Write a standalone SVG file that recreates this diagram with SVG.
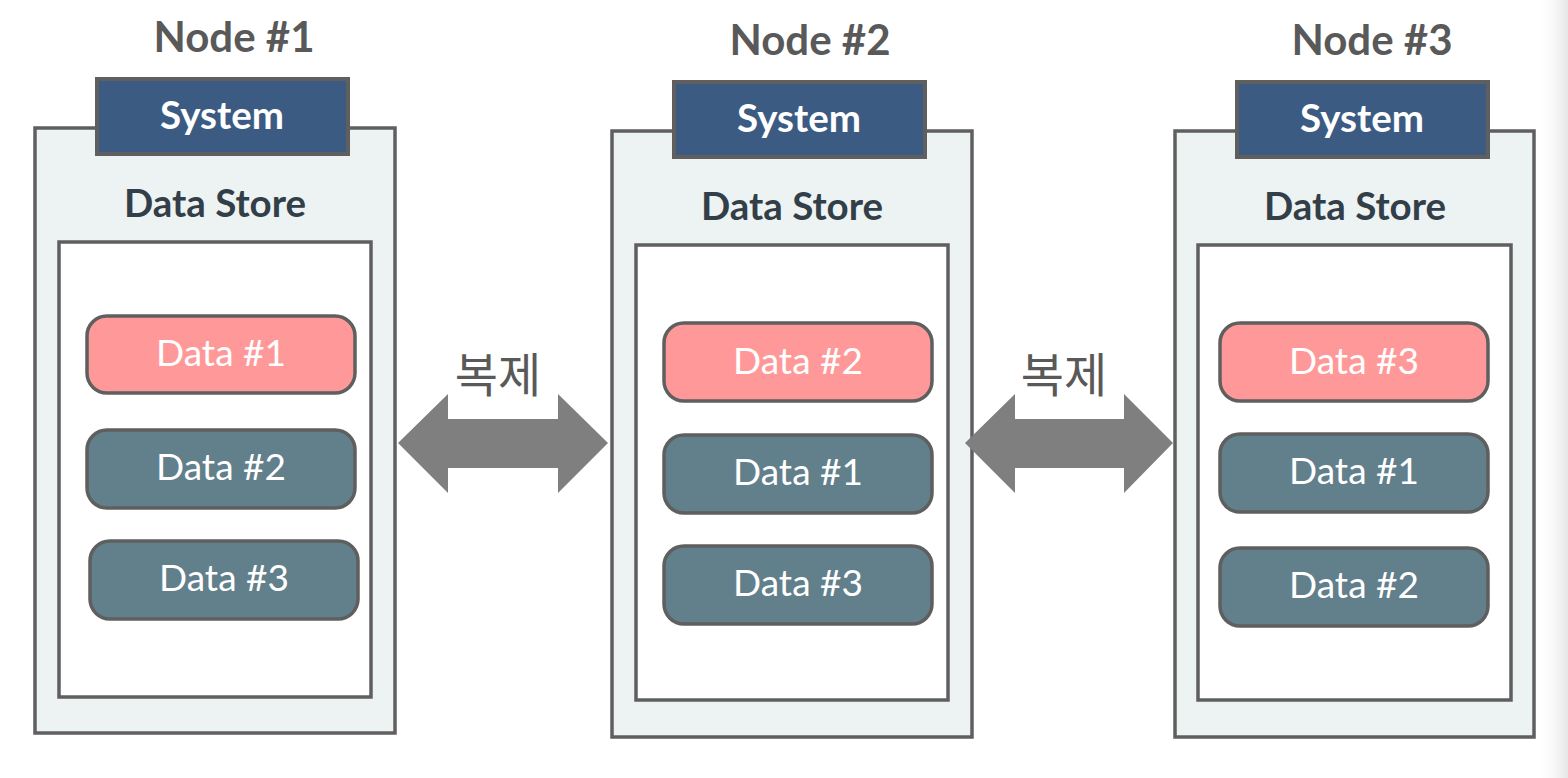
<svg xmlns="http://www.w3.org/2000/svg" width="1568" height="778" viewBox="0 0 1568 778">
<defs>
<linearGradient id="shade" x1="0" y1="0" x2="1" y2="0">
<stop offset="0" stop-color="#ffffff" stop-opacity="0"/>
<stop offset="1" stop-color="#e6e6e6"/>
</linearGradient>
</defs>
<style>
.outer{fill:#edf3f3;stroke:#5f5f5f;stroke-width:3.5}
.sys{fill:#3b5b82;stroke:#5f5f5f;stroke-width:4}
.inner{fill:#ffffff;stroke:#5f5f5f;stroke-width:3.5}
.pill{stroke:#5f5f5f;stroke-width:3.5}
.red{fill:#ff9999}
.teal{fill:#627f8c}
.title{font-family:Lato,"Open Sans",sans-serif;font-weight:bold;font-size:42px;fill:#595959;text-anchor:middle}
.systxt{font-family:Lato,"Open Sans",sans-serif;font-weight:bold;font-size:38.5px;fill:#ffffff;text-anchor:middle}
.ds{font-family:Lato,"Open Sans",sans-serif;font-weight:bold;font-size:38.5px;fill:#333f48;text-anchor:middle}
.dt{font-family:Lato,"Open Sans",sans-serif;font-size:37px;fill:#ffffff;text-anchor:middle}
.rep{font-family:"Noto Sans CJK KR",sans-serif;font-size:47px;fill:#595959;text-anchor:middle}
.arrow{fill:#7f7f7f}
</style>
<rect x="0" y="0" width="1568" height="778" fill="#ffffff"/>
<rect x="1536" y="0" width="32" height="778" fill="url(#shade)"/>

<g id="node1">
<text class="title" x="234" y="52">Node #1</text>
<rect class="outer" x="35" y="128" width="360" height="605"/>
<rect class="sys" x="97" y="79" width="251" height="75"/>
<text class="systxt" x="222" y="129">System</text>
<text class="ds" x="215" y="217">Data Store</text>
<rect class="inner" x="59" y="242" width="312" height="455"/>
<rect class="pill red" x="87" y="316" width="268" height="77" rx="20"/>
<text class="dt" x="221" y="366">Data #1</text>
<rect class="pill teal" x="87" y="430" width="268" height="78" rx="20"/>
<text class="dt" x="221" y="480">Data #2</text>
<rect class="pill teal" x="90" y="541" width="268" height="78" rx="20"/>
<text class="dt" x="224" y="591">Data #3</text>
</g>

<g id="node2">
<text class="title" x="810" y="55">Node #2</text>
<rect class="outer" x="612" y="131" width="360" height="606"/>
<rect class="sys" x="674" y="82" width="251" height="75"/>
<text class="systxt" x="799" y="132">System</text>
<text class="ds" x="792" y="220">Data Store</text>
<rect class="inner" x="636" y="245" width="312" height="455"/>
<rect class="pill red" x="664" y="323" width="268" height="78" rx="20"/>
<text class="dt" x="798" y="374">Data #2</text>
<rect class="pill teal" x="664" y="435" width="268" height="78" rx="20"/>
<text class="dt" x="798" y="485">Data #1</text>
<rect class="pill teal" x="664" y="546" width="268" height="78" rx="20"/>
<text class="dt" x="798" y="596">Data #3</text>
</g>

<g id="node3">
<text class="title" x="1372" y="55">Node #3</text>
<rect class="outer" x="1175" y="131" width="359" height="606"/>
<rect class="sys" x="1237" y="82" width="251" height="75"/>
<text class="systxt" x="1362" y="132">System</text>
<text class="ds" x="1355" y="220">Data Store</text>
<rect class="inner" x="1198" y="245" width="313" height="455"/>
<rect class="pill red" x="1220" y="323" width="268" height="78" rx="20"/>
<text class="dt" x="1354" y="374">Data #3</text>
<rect class="pill teal" x="1220" y="434" width="268" height="78" rx="20"/>
<text class="dt" x="1354" y="484">Data #1</text>
<rect class="pill teal" x="1220" y="548" width="268" height="78" rx="20"/>
<text class="dt" x="1354" y="598">Data #2</text>
</g>

<g id="connectors">
<text class="rep" x="498" y="392">복제</text>
<polygon class="arrow" points="398,443 448,394 448,419 558,419 558,394 608,443 558,493 558,468 448,468 448,493"/>
<text class="rep" x="1064" y="392">복제</text>
<polygon class="arrow" points="965,443 1015,394 1015,419 1124,419 1124,394 1173,443 1124,493 1124,468 1015,468 1015,493"/>
</g>
</svg>
